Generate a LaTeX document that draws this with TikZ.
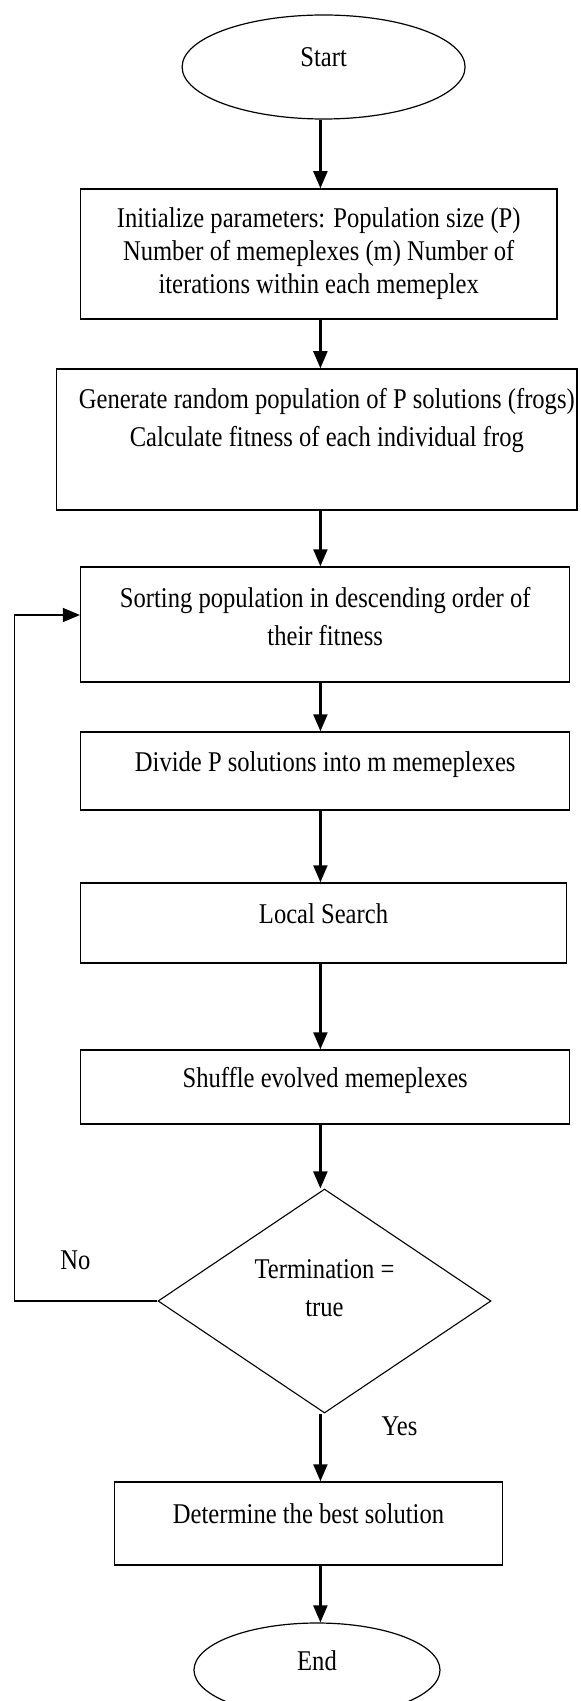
\documentclass[tikz,border=0pt]{standalone}
\usepackage{fontspec}
\setmainfont[FakeStretch=0.86]{Liberation Serif}
\usetikzlibrary{shapes.geometric,arrows.meta}

\newcommand{\padbelow}[1]{\rule[-#1]{0pt}{#1}}

\tikzset{
    >={Triangle[width=7pt,length=8.5pt]},
    every node/.style={font=\fontsize{14.3pt}{16.5pt}\selectfont},
    stepbox/.style={draw, rectangle, line width=0.75pt, inner sep=0pt, align=center},
    oneline/.style={text height=10pt, text depth=10pt},
    terminal/.style={draw, ellipse, line width=0.6pt, inner sep=0pt, text height=10pt, text depth=10pt},
    decision/.style={draw, diamond, line width=0.55pt, inner sep=0pt, align=center},
    flow/.style={->, line width=1.1pt},
}

\begin{document}
\begin{tikzpicture}[x=0.5pt, y=-0.5pt]

    \useasboundingbox (0,0) rectangle (580,1701);

    %% Main chain

    % Start
    \node[terminal, minimum width=141.5pt, minimum height=52pt] (start) at (323.6,67) {Start};

    % Steps
    \node[stepbox, minimum width=238.1pt, minimum height=65pt] (init) at (318.7,254)
        {Initialize parameters: Population size (P)\\Number of memeplexes (m) Number of\\iterations within each memeplex};
    \node[stepbox, minimum width=260.2pt, minimum height=70.5pt] (gen) at (316.8,439.5)
        {\hspace*{10pt}Generate random population of P solutions (frogs)\\[2.5pt]\hspace*{10pt}Calculate fitness of each individual frog\padbelow{22pt}};
    \node[stepbox, minimum width=244.5pt, minimum height=57.5pt] (sort) at (325.2,624.5)
        {Sorting population in descending order of\\[2.5pt]their fitness\padbelow{8.5pt}};
    \node[stepbox, oneline, minimum width=244.5pt, minimum height=39pt] (divide) at (325.2,771) {Divide P solutions into m memeplexes};
    \node[stepbox, oneline, minimum width=242.9pt, minimum height=40pt] (local) at (323.5,923) {Local Search};
    \node[stepbox, oneline, minimum width=244.5pt, minimum height=37pt] (shuffle) at (325.2,1087) {Shuffle evolved memeplexes};

    % Decision
    \node[decision, minimum width=166.5pt, minimum height=112pt] (term) at (324.5,1301)
        {Termination =\\[2.5pt]true\padbelow{13.25pt}};

    % Result and end
    \node[stepbox, oneline, minimum width=193.9pt, minimum height=41.5pt] (best) at (308.5,1523.5) {Determine the best solution};
    \node[terminal, minimum width=123pt, minimum height=47pt] (finish) at (317,1670) {End};

    % Arrows down the middle
    \coordinate (spine) at (320.4,0);
    \foreach \a/\b in {start/init, init/gen, gen/sort, sort/divide, divide/local, local/shuffle, shuffle/term, term/best, best/finish}
        \draw[flow] (\a.south -| spine) -- (\b.north -| spine);

    % Loop back
    \coordinate (back) at (14.7,615);
    \draw[->, line width=0.65pt] (term.west) -| (back) -- (back -| sort.west);

    % Labels
    \node[anchor=base] (no) at (75.5,1269) {No};
    \node[anchor=base] (yes) at (399.5,1435) {Yes};

\end{tikzpicture}
\end{document}
